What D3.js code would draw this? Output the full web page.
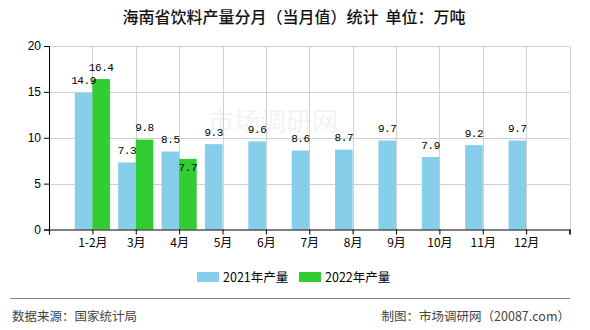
<!DOCTYPE html>
<html><head><meta charset="utf-8">
<script src="https://cdn.jsdelivr.net/npm/d3@7"></script>
<style>
html,body{margin:0;padding:0;background:#fff;}
svg{display:block;}
text{font-family:"Noto Sans CJK SC","Noto Sans",sans-serif;}
</style></head>
<body>
<script>
const title = "海南省饮料产量分月（当月值）统计  单位：万吨";
const categories = ["1-2月","3月","4月","5月","6月","7月","8月","9月","10月","11月","12月"];
const series2021 = [14.9,7.3,8.5,9.3,9.6,8.6,8.7,9.7,7.9,9.2,9.7];
const series2022 = [16.4,9.8,7.7,null,null,null,null,null,null,null,null];
const seriesNames = ["2021年产量","2022年产量"];
const seriesColors = ["#87CEEB","#32CD32"];
const yTicks = [0,5,10,15,20];
const sourceText = "数据来源：国家统计局";
const creditText = "制图：市场调研网（20087.com）";

const W = 590, H = 330;
const svg = d3.select("body").append("svg").attr("width", W).attr("height", H);

const pLeft = 49, pRight = 569.5, pTop = 46, pBottom = 229.5;
const x = d3.scaleLinear().domain([0, categories.length + 1]).range([pLeft, pRight]);
const y = d3.scaleLinear().domain([0, 20]).range([pBottom, pTop]);
const step = x(1) - x(0);
const barW = step * 0.405;

// watermark
svg.append("text").attr("x", 273).attr("y", 131).attr("text-anchor","middle")
  .attr("font-size", 26).attr("fill", "#f3f3f3").text("市场调研网");

// grid
const grid = svg.append("g");
grid.selectAll("line.h").data(yTicks.filter(d => d > 0)).join("line")
  .attr("x1", pLeft).attr("x2", pRight).attr("y1", d => Math.round(y(d)) + 0.5).attr("y2", d => Math.round(y(d)) + 0.5)
  .attr("stroke", "#d0d0d0").attr("stroke-width", 1);
grid.selectAll("line.v").data(d3.range(1, categories.length + 2)).join("line")
  .attr("x1", d => Math.round(x(d)) + 0.5).attr("x2", d => Math.round(x(d)) + 0.5)
  .attr("y1", pTop).attr("y2", pBottom)
  .attr("stroke", "#d0d0d0").attr("stroke-width", 1);

// bars
const data = categories.map((c, i) => ({c, i, v: [series2021[i], series2022[i]]}));
const bars = [];
data.forEach(d => {
  d.v.forEach((v, s) => {
    if (v == null) return;
    const cx = x(d.i + 1);
    const x0 = s === 0 ? cx - barW : cx;
    bars.push({cat: d.i, s, v, x0, w: barW});
  });
});
svg.append("g").selectAll("rect").data(bars).join("rect")
  .attr("x", d => d.x0).attr("width", d => d.w)
  .attr("y", d => y(d.v)).attr("height", d => y(0) - y(d.v))
  .attr("fill", d => seriesColors[d.s]);

// labels with simple overlap handling
bars.forEach(b => { b.lx = b.x0 + b.w / 2; b.ly = y(b.v) - 8.5; });
d3.groups(bars, b => b.cat).forEach(([k, arr]) => {
  if (arr.length === 2) {
    const [a, b] = arr;
    if (Math.abs(a.ly - b.ly) < 11) {
      const low = a.v < b.v ? a : b;
      low.ly = y(low.v) + 12.5;
    }
  }
});
svg.append("g").selectAll("text").data(bars).join("text")
  .attr("x", d => d.lx).attr("y", d => d.ly).attr("text-anchor", "middle")
  .style("font-family", "'Liberation Mono','DejaVu Sans Mono',monospace")
  .attr("font-size", 11).attr("letter-spacing", -0.4).attr("fill", "#000")
  .text(d => d.v.toFixed(1));

// axes
const yAxis = d3.axisLeft(y).tickValues(yTicks).tickSize(5).tickPadding(3);
const gy = svg.append("g").attr("transform", `translate(${pLeft},0)`).call(yAxis);
gy.select(".domain").attr("stroke", "#000");
gy.selectAll(".tick line").attr("stroke", "#000");
gy.selectAll("text").attr("font-size", 12).attr("fill", "#000")
  .style("font-family", "'Liberation Sans',Arial,sans-serif");

const xTickVals = d3.range(0, categories.length + 2);
const xAxis = d3.axisBottom(x).tickValues(xTickVals).tickSize(5).tickPadding(4)
  .tickFormat(d => (d >= 1 && d <= categories.length) ? categories[d - 1] : "");
const gx = svg.append("g").attr("transform", `translate(0,${pBottom})`).call(xAxis);
gx.select(".domain").attr("stroke", "#000").attr("stroke-width", 1.2);
gx.selectAll(".tick line").attr("stroke", "#000");
gx.selectAll("text").attr("font-size", 12).attr("fill", "#000");

// title
svg.append("text").attr("x", 294).attr("y", 23).attr("text-anchor", "middle")
  .style("white-space", "pre")
  .attr("font-size", 16).attr("fill", "#111").attr("font-weight", 500).text(title);

// legend
const lg = svg.append("g");
const legendItems = [{x: 197, i: 0}, {x: 299, i: 1}];
legendItems.forEach(it => {
  lg.append("rect").attr("x", it.x).attr("y", 272).attr("width", 22).attr("height", 10)
    .attr("fill", seriesColors[it.i]);
  lg.append("text").attr("x", it.x + 26).attr("y", 281.5).attr("font-size", 12.5)
    .attr("fill", "#000").text(seriesNames[it.i]);
});

// footer
svg.append("line").attr("x1", 10).attr("x2", 570).attr("y1", 298.5).attr("y2", 298.5)
  .attr("stroke", "#888").attr("stroke-width", 1);
svg.append("text").attr("x", 12).attr("y", 321).attr("font-size", 12.5).attr("fill", "#444").text(sourceText);
svg.append("text").attr("x", 570).attr("y", 321).attr("text-anchor", "end").attr("font-size", 12.5)
  .attr("fill", "#444").text(creditText);
</script>
</body></html>
